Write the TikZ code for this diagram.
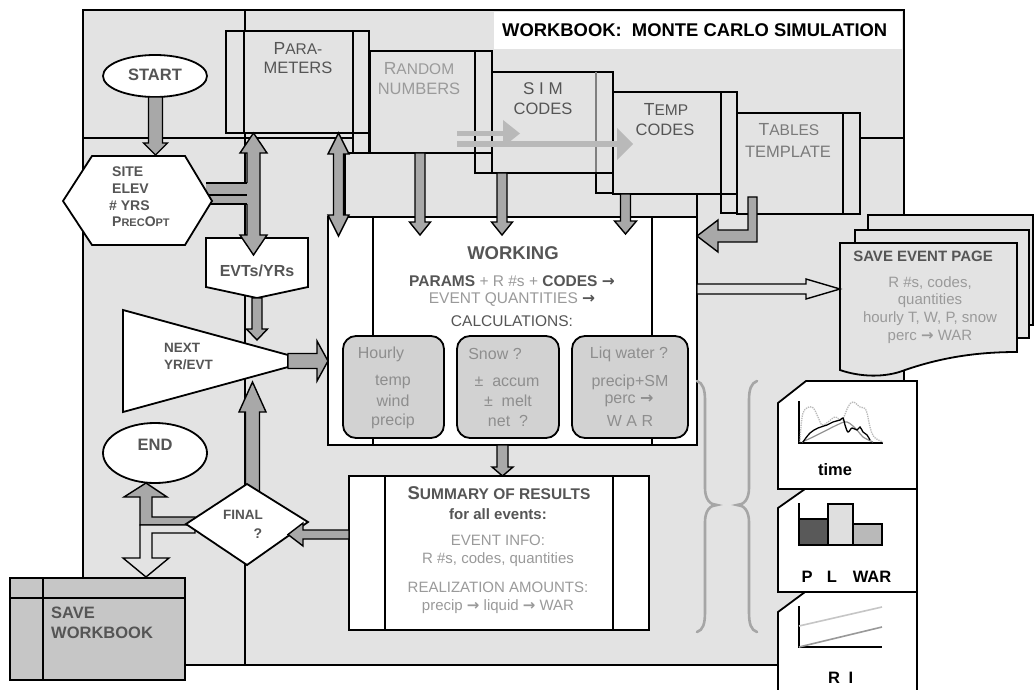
\documentclass[tikz,border=0pt]{standalone}
\usepackage{fontspec}
\setmainfont{Liberation Sans}
\newfontfamily\dv{DejaVu Sans}
\usetikzlibrary{calc}
\definecolor{bgfill}{HTML}{E3E3E3}
\definecolor{arrfill}{HTML}{A8A8A8}
\definecolor{dtext}{HTML}{555555}
\definecolor{ltext}{HTML}{9A9A9A}
\definecolor{mtext}{HTML}{7A7A7A}
\definecolor{btext}{HTML}{8E8E8E}
\definecolor{rfill}{HTML}{D2D2D2}
\definecolor{wbfill}{HTML}{C6C6C6}
\newcommand{\fs}[1]{\fontsize{#1}{#1}\selectfont}
\newcommand{\ar}{{\dv\bfseries →}}
% block arrow: style, start, angle, length, shaft half, head half, head length
\newcommand{\barrow}[7]{%
  \path[#1, shift={#2}, rotate=#3] (0,#5) -- ({#4-#7},#5) -- ({#4-#7},#6) -- (#4,0) -- ({#4-#7},-#6) -- ({#4-#7},-#5) -- (0,-#5) -- cycle;}
\newcommand{\dbarrow}[7]{%
  \path[#1, shift={#2}, rotate=#3] (0,0) -- (#7,#6) -- (#7,#5) -- ({#4-#7},#5) -- ({#4-#7},#6) -- (#4,0) -- ({#4-#7},-#6) -- ({#4-#7},-#5) -- (#7,-#5) -- (#7,-#6) -- cycle;}
\begin{document}
\begin{tikzpicture}[x=1pt,y=-1pt,line join=miter,
  bx/.style={draw=black, line width=1.8pt},
  arr/.style={draw=black, line width=1.4pt, fill=arrfill},
  txt/.style={inner sep=0pt, align=center, text=dtext},
  brace/.style={draw=gray!70, line width=2.6pt, line cap=round},
  chartaxis/.style={draw=black, line width=1.3pt}]
\path[use as bounding box] (0,0) rectangle (1034,690);
% frame
\draw[bx, line width=2pt, fill=bgfill] (83,10) rectangle (904,665);
\fill[white] (494,12) rectangle (902,49);
\draw[line width=1.4pt] (245,10) -- (245,665);
\draw[line width=1.4pt] (83,138) -- (904,138);
% back sheet of working page
\draw[bx, fill=bgfill] (345,153) rectangle (697,217);
% cards
\draw[bx, fill=bgfill] (226,31) rectangle (369,133);
\draw[bx] (244,31) -- (244,133); \draw[bx] (353,31) -- (353,133);
\draw[bx, fill=bgfill] (353,133) rectangle (369,153);
\draw[bx, fill=bgfill] (370,51) rectangle (492,153);
\draw[bx] (475,51) -- (475,153);
\draw[bx, fill=bgfill] (475,153) rectangle (492,173);
\draw[bx, fill=bgfill] (492,72) rectangle (613,173);
\draw[line width=1.4pt, gray] (596,72) -- (596,173);
\draw[bx, fill=bgfill] (596,173) rectangle (613,193);
\draw[bx, fill=bgfill] (613,92) rectangle (737,194);
\draw[bx] (721,92) -- (721,194);
\draw[bx, fill=bgfill] (721,194) rectangle (737,213);
\draw[bx, fill=bgfill] (737,113) rectangle (860,214);
\draw[bx] (843,113) -- (843,214);
% gray arrows across the codes
\fill[gray!55] (457,131) rectangle (503,136);
\fill[gray!55] (503,120) -- (520,133.5) -- (503,147) -- cycle;
\fill[gray!55] (457,141) rectangle (617,147);
\fill[gray!55] (617,128) -- (633,144) -- (617,160) -- cycle;
% working box
\draw[bx, fill=white] (328,217) rectangle (697,445);
\draw[bx] (373,217) -- (373,445); \draw[bx] (652,217) -- (652,445);
\draw[bx, fill=rfill, rounded corners=13pt] (343,336) rectangle (444,438);
\draw[bx, fill=rfill, rounded corners=13pt] (457,336) rectangle (559,438);
\draw[bx, fill=rfill, rounded corners=13pt] (572,336) rectangle (688,438);
% summary box
\draw[bx, fill=white] (349,476) rectangle (649,630);
\draw[bx] (385,476) -- (385,630); \draw[bx] (613,476) -- (613,630);
% start
\draw[bx, fill=white] (155,76) ellipse [x radius=52, y radius=21];
\barrow{arr}{(155.5,97)}{270}{58}{7}{12}{12}
% EVTs box
\draw[bx, fill=white] (206,238) -- (308,238) -- (308,287) -- (257,298) -- (206,287) -- cycle;
\dbarrow{arr}{(253.5,133)}{270}{122}{6.5}{13.5}{20}
\fill[arrfill] (206,183) rectangle (254,204);
\draw[line width=1.4pt] (206,183) -- (247,183) (206,195) -- (247,195) (206,204) -- (247,204);
\draw[bx, fill=white] (63,201) -- (92,156) -- (185,156) -- (212,201) -- (185,245) -- (92,245) -- cycle;
% arrows into working
\dbarrow{arr}{(338.5,133)}{270}{103}{5}{10.5}{21}
\barrow{arr}{(420,153)}{270}{82}{5}{10.5}{13}
\barrow{arr}{(502,173)}{270}{62}{5}{10.5}{13}
\barrow{arr}{(625.5,194)}{270}{40}{5}{11}{13}
\draw[arr] (748,197) -- (757,197) -- (757,242) -- (718,242) -- (718,252) -- (697,236) -- (718,220) -- (718,230) -- (748,230) -- cycle;
% next yr/evt
\draw[bx, fill=white] (123,310) -- (288,355) -- (288,367) -- (123,412) -- cycle;
\barrow{arr}{(257,298)}{270}{42}{5}{10.5}{11}
\barrow{arr}{(288,361)}{0}{40}{7.5}{20}{11}
% final / end
\barrow{arr}{(252.5,498)}{90}{116}{7}{13.5}{30}
\draw[arr] (195,517) -- (152,517) -- (152,497) -- (167,497) -- (146,483) -- (124,497) -- (140,497) -- (140,525) -- (195,525) -- cycle;
\draw[arr, fill=bgfill] (195,525) -- (140,525) -- (140,558) -- (123,558) -- (146,577) -- (169,558) -- (152,558) -- (152,533) -- (195,533) -- cycle;
\draw[bx, fill=white] (155,453) ellipse [x radius=52, y radius=30];
\draw[bx, fill=white] (186,524) -- (247,484) -- (308,522) -- (247,565) -- cycle;
\barrow{arr}{(349,534.5)}{180}{61}{4.5}{11.5}{15}
% save workbook
\draw[bx, fill=wbfill] (10,578) rectangle (185,680);
\draw[bx] (43,578) -- (43,680); \draw[bx] (10,598) -- (185,598);
% working -> summary
\barrow{arr}{(502.5,445)}{270}{31}{5.5}{10.5}{9}
% save event page
\draw[bx, fill=bgfill] (868,215) rectangle (1033,325);
\draw[bx, fill=bgfill] (855,230) rectangle (1029,338);
\draw[bx, fill=bgfill] (840,243) -- (1017,243) -- (1017,352) .. controls (975,352) and (940,358) .. (905,370) .. controls (885,378) and (860,377) .. (840,370) -- cycle;
\barrow{arr, fill=bgfill}{(697,289)}{0}{143}{5}{10}{34}
% braces
\draw[brace] (697,381) .. controls (703,383) and (705,390) .. (705,400) -- (705,488) .. controls (705,499) and (710,505) .. (717,505) .. controls (710,505) and (705,511) .. (705,522) -- (705,612) .. controls (705,624) and (703,630) .. (697,632);
\draw[brace] (757,381) .. controls (751,383) and (749,390) .. (749,400) -- (749,488) .. controls (749,499) and (744,505) .. (737,505) .. controls (744,505) and (749,511) .. (749,522) -- (749,612) .. controls (749,624) and (751,630) .. (757,632);
% chart cards
\draw[bx, fill=white] (778,403) -- (806,381) -- (917,381) -- (917,489) -- (778,489) -- cycle;
\draw[bx, fill=white] (778,508) -- (805,489) -- (917,489) -- (917,592) -- (778,592) -- cycle;
\draw[bx, fill=white] (778,692) -- (778,612) -- (805,592) -- (917,592) -- (917,692);
% chart 1
\draw[chartaxis] (799,401) -- (799,443) -- (883,443);
\draw[gray!55, line width=1.3pt, densely dotted] plot[smooth, tension=0.6] coordinates {(800,442) (803,413) (812,407) (818,417) (822,425) (828,422) (835,417) (842,420) (848,407) (853,402) (860,407) (866,410) (870,427) (874,437) (883,442)};
\draw[gray!85, line width=1.2pt] plot[smooth, tension=0.6] coordinates {(802,442) (813,437) (827,430) (837,425) (847,422) (857,430) (863,437) (873,442)};
\draw[black, line width=1.3pt] plot[smooth, tension=0.6] coordinates {(803,442) (810,433) (818,428) (827,425) (833,422) (840,420) (843,418) (845,425) (848,432) (852,428) (857,430) (860,427) (863,432) (867,435) (870,440)};
% chart 2
\draw[chartaxis] (799,503) -- (799,545);
\draw[line width=1.3pt, fill=gray!70!black] (799,519) rectangle (828,545);
\draw[line width=1.3pt, fill=gray!25] (828,504) rectangle (853,545);
\draw[line width=1.3pt, fill=gray!55] (853,524) rectangle (882,545);
% chart 3
\draw[chartaxis] (799,606) -- (799,647) -- (882,647);
\draw[gray!45, line width=1.6pt] (799,626) -- (882,607);
\draw[gray!80, line width=1.6pt] (799,647) -- (882,627);
% ---------------- texts
\node[anchor=west, inner sep=0pt, font=\bfseries\fs{18.4}] (title) at (502,30) {WORKBOOK:\ \ MONTE CARLO SIMULATION};
\node[txt, font=\fs{17.5}] (par1) at (298,48) {P{\fs{15.5}ARA-}};
\node[txt, font=\fs{16.5}] (par2) at (298,68) {METERS};
\node[txt, font=\fs{17.5}, text=ltext] (ran1) at (419,69) {R{\fs{15.5}ANDOM}};
\node[txt, font=\fs{16.5}, text=ltext] (ran2) at (419,89) {NUMBERS};
\node[txt, font=\fs{17}] (sim1) at (543,89) {S I M};
\node[txt, font=\fs{16.5}] (sim2) at (543,109) {CODES};
\node[txt, font=\fs{17.5}] (tmp1) at (666,109) {T{\fs{15.5}EMP}};
\node[txt, font=\fs{16.5}] (tmp2) at (665,130) {CODES};
\node[txt, font=\fs{17.5}, text=mtext] (tab1) at (789,130) {T{\fs{15.5}ABLES}};
\node[txt, font=\fs{16.5}, text=mtext] (tab2) at (788,152) {TEMPLATE};
\node[txt, font=\bfseries\fs{16.5}] (start) at (155,75) {START};
\node[anchor=west, txt, font=\bfseries\fs{14}] (h1) at (112,172) {SITE};
\node[anchor=west, txt, font=\bfseries\fs{14}] (h2) at (112,189) {ELEV};
\node[anchor=west, txt, font=\bfseries\fs{14}] (h3) at (109,205.5) {\# YRS};
\node[anchor=west, txt, font=\bfseries\fs{14}] (h4) at (112,222) {P{\fs{11}REC}O{\fs{11}PT}};
\node[txt, font=\bfseries\fs{16}] (evts) at (257,271) {EVTs/YRs};
\node[anchor=west, txt, font=\bfseries\fs{13.5}] (nx1) at (164,348) {NEXT};
\node[anchor=west, txt, font=\bfseries\fs{13.5}] (nx2) at (164,365) {YR/EVT};
\node[txt, font=\bfseries\fs{16.5}] (endt) at (155,445) {END};
\node[txt, font=\bfseries\fs{13.5}] (fin1) at (243,515) {FINAL};
\node[txt, font=\bfseries\fs{14}] (fin2) at (258,534) {?};
\node[anchor=west, txt, font=\bfseries\fs{16.5}] (sw1) at (51,613) {SAVE};
\node[anchor=west, txt, font=\bfseries\fs{16.5}] (sw2) at (51,633) {WORKBOOK};
\node[txt, font=\bfseries\fs{18.5}] (wk) at (513,253) {WORKING};
\node[txt, font=\fs{15.5}] (wk1) at (512,281) {\textbf{PARAMS} \textcolor{ltext}{+ R \#s +} \textbf{CODES} \ar};
\node[txt, font=\fs{15.5}, text=ltext] (wk2) at (512,300) {EVENT QUANTITIES \textcolor{dtext}{\ar}};
\node[txt, font=\fs{15.5}] (wk3) at (512,321) {CALCULATIONS:};
\node[txt, font=\fs{16}, text=btext] (b11) at (381,354) {Hourly};
\node[txt, font=\fs{16}, text=btext] (b12) at (393,382) {temp};
\node[txt, font=\fs{16}, text=btext] (b13) at (393,401) {wind};
\node[txt, font=\fs{16}, text=btext] (b14) at (393,421) {precip};
\node[txt, font=\fs{16}, text=btext] (b21) at (495,354) {Snow ?};
\node[txt, font=\fs{16}, text=btext] (b22) at (507,382) {±\ \ accum};
\node[txt, font=\fs{16}, text=btext] (b23) at (508,401) {±\ \ melt};
\node[txt, font=\fs{16}, text=btext] (b24) at (508,421) {net\ \ ?};
\node[txt, font=\fs{16}, text=btext] (b31) at (629,354) {Liq water ?};
\node[txt, font=\fs{16}, text=btext] (b32) at (630,382) {precip+SM};
\node[txt, font=\fs{16}, text=btext] (b33) at (629,401) {perc \ar};
\node[txt, font=\fs{16}, text=btext] (b34) at (630,421) {W A R};
\node[txt, font=\bfseries\fs{18.5}] (s1) at (499,493) {S{\fs{15.5}UMMARY OF RESULTS}};
\node[txt, font=\bfseries\fs{15}] (s2) at (498,514) {for all events:};
\node[txt, font=\fs{15}, text=ltext] (s3) at (498,540) {EVENT INFO:};
\node[txt, font=\fs{15}, text=ltext] (s4) at (498,560) {R \#s, codes, quantities};
\node[txt, font=\fs{15}, text=ltext] (s5) at (498,587) {REALIZATION AMOUNTS:};
\node[txt, font=\fs{15}, text=ltext] (s6) at (498,607) {precip \ar\ liquid \ar\ WAR};
\node[txt, font=\bfseries\fs{15}] (e1) at (923,256) {SAVE EVENT PAGE};
\node[txt, font=\fs{15}, text=ltext] (e2) at (930,283) {R \#s, codes,};
\node[txt, font=\fs{15}, text=ltext] (e3) at (930,301) {quantities};
\node[txt, font=\fs{15}, text=ltext] (e4) at (930,319) {hourly T, W, P, snow};
\node[txt, font=\fs{15}, text=ltext] (e5) at (930,337) {perc \ar\ WAR};
\node[txt, text=black, font=\bfseries\fs{16.5}] (c1) at (835,470) {time};
\node[txt, text=black, font=\bfseries\fs{16.5}] (c2p) at (807,577) {P};
\node[txt, text=black, font=\bfseries\fs{16.5}] (c2l) at (832,577) {L};
\node[txt, text=black, font=\bfseries\fs{16.5}] (c2w) at (872,577) {WAR};
\node[txt, text=black, font=\bfseries\fs{16.5}] (c3r) at (834,678) {R};
\node[txt, text=black, font=\bfseries\fs{16.5}] (c3i) at (851,678) {I};
\end{tikzpicture}
\end{document}
